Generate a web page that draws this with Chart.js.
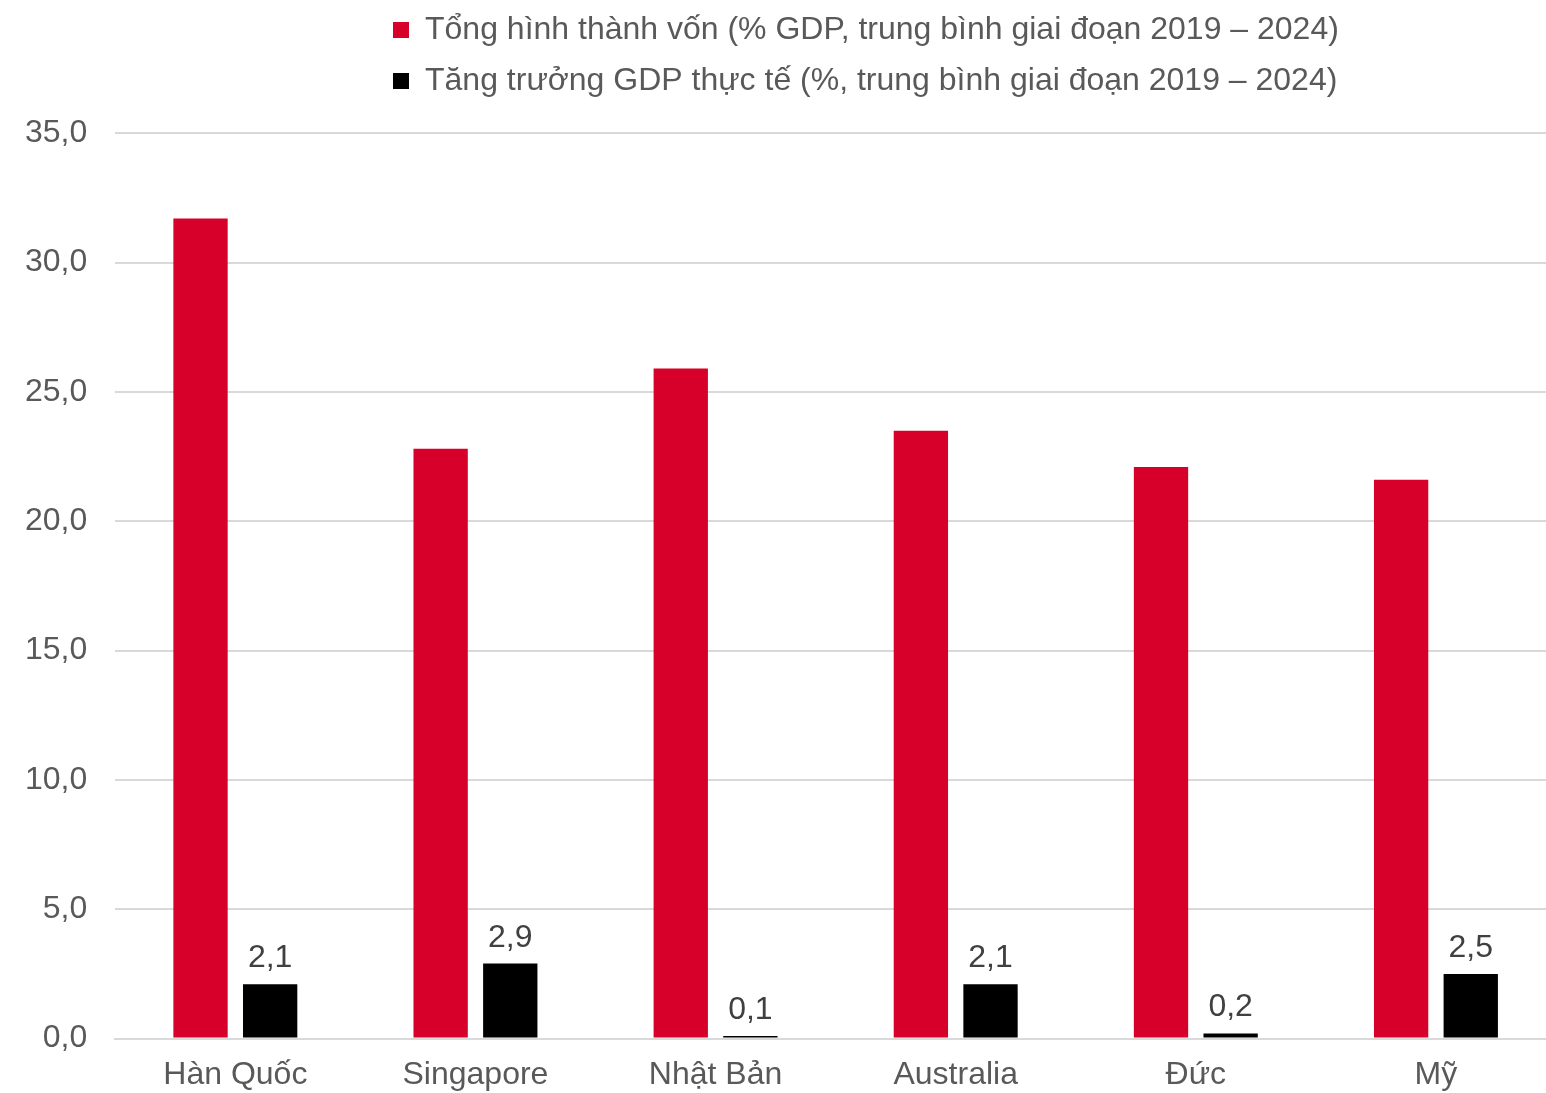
<!DOCTYPE html>
<html lang="vi">
<head>
  <meta charset="UTF-8">
  <title>Tổng hình thành vốn và tăng trưởng GDP</title>
  <script src="https://cdn.jsdelivr.net/npm/chart.js"></script>
  <style>
    body {
      margin: 0;
      background: #ffffff;
      overflow: hidden;
    }
    /* vùng vẽ rộng hơn cửa sổ một chút: cột cuối bị cắt mép phải như bản gốc */
    .wrap {
      width: 1556px;
      height: 1093px;
      position: relative;
    }
  </style>
</head>
<body>
  <div class="wrap">
    <canvas id="chart"></canvas>
  </div>

  <script>
    const categories = ['Hàn Quốc', 'Singapore', 'Nhật Bản', 'Australia', 'Đức', 'Mỹ'];
    const capitalFormation = [31.7, 22.8, 25.9, 23.5, 22.1, 21.6];
    const gdpGrowth = [2.1, 2.9, 0.1, 2.1, 0.2, 2.5];
    const seriesNames = [
      'Tổng hình thành vốn (% GDP, trung bình giai đoạn 2019 – 2024)',
      'Tăng trưởng GDP thực tế (%, trung bình giai đoạn 2019 – 2024)'
    ];

    const FONT = "'Liberation Sans', Arial, sans-serif";
    const fmt = v => v.toFixed(1).replace('.', ',');

    // nhãn giá trị trên cột đen
    const valueLabels = {
      id: 'valueLabels',
      afterDatasetsDraw(chart) {
        const ctx = chart.ctx;
        const meta = chart.getDatasetMeta(1);
        ctx.save();
        ctx.font = '32px ' + FONT;
        ctx.fillStyle = '#404040';
        ctx.textAlign = 'center';
        ctx.textBaseline = 'alphabetic';
        meta.data.forEach((bar, i) => {
          ctx.fillText(fmt(gdpGrowth[i]), bar.x, bar.y - 17);
        });
        ctx.restore();
      }
    };

    // chú thích lệch phải như bản gốc
    const legendShift = {
      id: 'legendShift',
      afterLayout(chart) {
        const lg = chart.legend;
        lg.left = 374;
        lg.right = lg.left + chart.width;
        lg.top -= 5;
        lg.bottom -= 5;
      }
    };

    new Chart(document.getElementById('chart'), {
      type: 'bar',
      data: {
        labels: categories,
        datasets: [{
          label: seriesNames[0],
          data: capitalFormation,
          backgroundColor: '#d7002a',
          categoryPercentage: 0.58,
          barPercentage: 0.78
        }, {
          label: seriesNames[1],
          data: gdpGrowth,
          backgroundColor: '#000000',
          categoryPercentage: 0.58,
          barPercentage: 0.78
        }]
      },
      options: {
        responsive: true,
        maintainAspectRatio: false,
        animation: false,
        layout: {
          padding: { left: -3, right: 0, top: 0, bottom: -18 }
        },
        plugins: {
          legend: {
            position: 'top',
            align: 'start',
            labels: {
              boxWidth: 16,
              boxHeight: 16,
              padding: 19,
              color: '#595959',
              font: { family: FONT, size: 32 }
            }
          },
          title: {
            display: true,
            text: '',
            weight: 500,
            font: { size: 1 },
            padding: { top: 0, bottom: 20 }
          },
          tooltip: { enabled: false }
        },
        scales: {
          x: {
            grid: { display: false, drawTicks: false },
            border: { display: true, color: '#d9d9d9', width: 2 },
            ticks: {
              color: '#595959',
              padding: 17,
              font: { family: FONT, size: 32 }
            }
          },
          y: {
            min: 0,
            max: 35,
            grid: { color: '#d9d9d9', lineWidth: 2, drawTicks: false },
            border: { display: false },
            ticks: {
              stepSize: 5,
              padding: 28,
              color: '#595959',
              font: { family: FONT, size: 32 },
              callback: v => fmt(v)
            }
          }
        }
      },
      plugins: [valueLabels, legendShift]
    });
  </script>
</body>
</html>
